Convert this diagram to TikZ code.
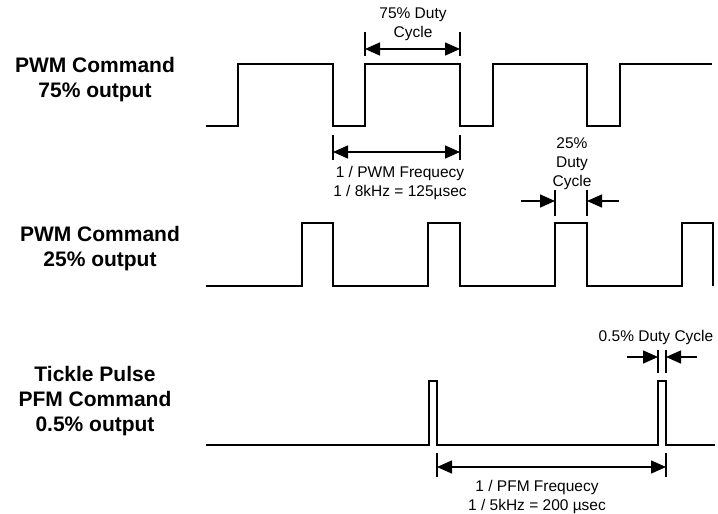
\documentclass[tikz,border=0pt]{standalone}
\usepackage{fontspec}
\setmainfont{Liberation Sans}
\usetikzlibrary{arrows.meta}
\tikzset{
  wave/.style={line width=2pt, line join=miter},
  ext/.style={line width=1.5pt},
  dim/.style={line width=1.5pt, {Triangle[length=15pt,width=13pt]}-{Triangle[length=15pt,width=13pt]}},
  pointer/.style={line width=1.5pt, -{Triangle[length=15pt,width=13pt]}},
  lbl/.style={align=center, inner sep=0pt, font=\fontsize{21}{25}\selectfont\bfseries},
  small/.style={align=center, inner sep=0pt, font=\fontsize{15.5}{19}\selectfont}
}
\begin{document}
\begin{tikzpicture}[x=1pt,y=-1pt]
\useasboundingbox (0,0) rectangle (718,514);
% labels
\node[lbl] (l1) at (95,80) {PWM Command\\75\% output};
\node[lbl] (l2) at (100,249) {PWM Command\\25\% output};
\node[lbl] (l3) at (95,401) {Tickle Pulse\\PFM Command\\0.5\% output};
% waveforms
\draw[wave] (206,126) -- (238,126) -- (238,64) -- (333,64) -- (333,126) -- (365,126) -- (365,64) -- (460,64) -- (460,126) -- (493,126) -- (493,64) -- (587,64) -- (587,126) -- (620,126) -- (620,64) -- (712,64);
\draw[wave] (206,286) -- (302,286) -- (302,223) -- (333,223) -- (333,286) -- (428,286) -- (428,223) -- (460,223) -- (460,286) -- (555,286) -- (555,223) -- (587,223) -- (587,286) -- (682,286) -- (682,223) -- (713,223) -- (713,286);
\draw[wave] (206,445) -- (429,445) -- (429,381) -- (437,381) -- (437,445) -- (658,445) -- (658,381) -- (666,381) -- (666,445) -- (715,445);
% 75% duty
\coordinate (a1t) at (365,32); \coordinate (a1b) at (365,56);
\coordinate (a2t) at (460,32); \coordinate (a2b) at (460,56);
\draw[ext] (a1t) -- (a1b); \draw[ext] (a2t) -- (a2b);
\coordinate (a1) at (365,49); \coordinate (a2) at (460,49);
\draw[dim] (a1) -- (a2);
\node[small] (t1) at (413,24) {75\% Duty\\Cycle};
% PWM period
\coordinate (b1t) at (333,135); \coordinate (b1b) at (333,160);
\coordinate (b2t) at (460,135); \coordinate (b2b) at (460,160);
\draw[ext] (b1t) -- (b1b); \draw[ext] (b2t) -- (b2b);
\coordinate (b1) at (333,152); \coordinate (b2) at (460,152);
\draw[dim] (b1) -- (b2);
\node[small] (t2) at (400,183) {1 / PWM Frequecy\\1 / 8kHz = 125µsec};
% 25% duty
\coordinate (c1t) at (555,190); \coordinate (c1b) at (555,216);
\coordinate (c2t) at (587,190); \coordinate (c2b) at (587,216);
\draw[ext] (c1t) -- (c1b); \draw[ext] (c2t) -- (c2b);
\coordinate (c1) at (555,201); \coordinate (c2) at (587,201);
\coordinate (c1o) at (521,201); \coordinate (c2o) at (619,201);
\draw[pointer] (c1o) -- (c1);
\draw[pointer] (c2o) -- (c2);
\node[small] (t3) at (572,164) {25\%\\Duty\\Cycle};
% 0.5% duty
\coordinate (d1t) at (658,350); \coordinate (d1b) at (658,373);
\coordinate (d2t) at (666,350); \coordinate (d2b) at (666,373);
\draw[ext] (d1t) -- (d1b); \draw[ext] (d2t) -- (d2b);
\coordinate (d1) at (658,357); \coordinate (d2) at (666,357);
\coordinate (d1o) at (627,357); \coordinate (d2o) at (697,357);
\draw[pointer] (d1o) -- (d1);
\draw[pointer] (d2o) -- (d2);
\node[small] (t4) at (656,337) {0.5\% Duty Cycle};
% PFM period
\coordinate (e1t) at (437,453); \coordinate (e1b) at (437,477);
\coordinate (e2t) at (666,453); \coordinate (e2b) at (666,477);
\draw[ext] (e1t) -- (e1b); \draw[ext] (e2t) -- (e2b);
\coordinate (e1) at (437,467); \coordinate (e2) at (666,467);
\draw[dim] (e1) -- (e2);
\node[small] (t5) at (537,497) {1 / PFM Frequecy\\1 / 5kHz = 200 µsec};
\end{tikzpicture}
\end{document}
